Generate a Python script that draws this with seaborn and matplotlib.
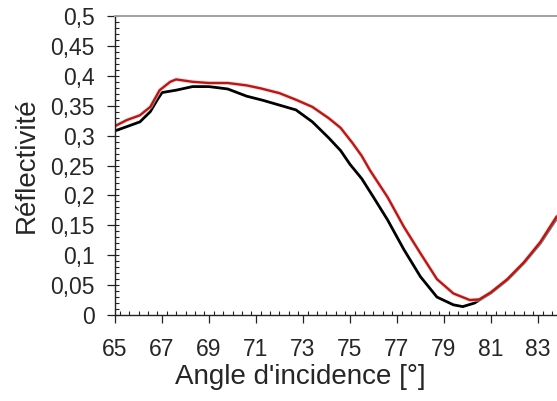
import matplotlib
matplotlib.use("Agg")
import matplotlib.pyplot as plt
import seaborn as sns
import pandas as pd
from matplotlib.ticker import MultipleLocator, FixedLocator

# ---- data ----
angle_black = [65.0, 65.5, 66.06, 66.5, 66.8, 67.0, 67.6, 68.3, 69.0, 69.8, 70.6, 71.3, 72.0,
               72.7, 73.4, 74.1, 74.6, 75.0, 75.5, 76.0, 76.6, 77.3, 78.0, 78.7, 79.4, 79.8,
               80.3, 81.0, 81.7, 82.4, 83.1, 83.8]
refl_black = [0.308, 0.315, 0.323, 0.340, 0.360, 0.372, 0.376, 0.382, 0.382, 0.378, 0.366, 0.359,
              0.351, 0.343, 0.323, 0.296, 0.275, 0.252, 0.228, 0.197, 0.159, 0.109, 0.064, 0.030,
              0.017, 0.014, 0.020, 0.037, 0.059, 0.087, 0.120, 0.162]

angle_red = [65.0, 65.5, 66.06, 66.5, 66.9, 67.35, 67.6, 68.3, 69.0, 69.8, 70.6, 71.2, 72.0,
             72.7, 73.4, 74.1, 74.6, 75.1, 75.5, 75.85, 76.6, 77.3, 78.0, 78.7, 79.4, 80.1,
             80.5, 81.0, 81.7, 82.4, 83.1, 83.8]
refl_red = [0.316, 0.326, 0.334, 0.348, 0.376, 0.390, 0.394, 0.390, 0.388, 0.388, 0.384, 0.379,
            0.371, 0.360, 0.348, 0.329, 0.313, 0.288, 0.266, 0.242, 0.197, 0.147, 0.103, 0.060,
            0.036, 0.025, 0.026, 0.038, 0.060, 0.088, 0.122, 0.165]

x_ticks = [65, 67, 69, 71, 73, 75, 77, 79, 81, 83]
y_ticks = [0, 0.05, 0.1, 0.15, 0.2, 0.25, 0.3, 0.35, 0.4, 0.45, 0.5]
y_tick_labels = ["0", "0,05", "0,1", "0,15", "0,2", "0,25", "0,3", "0,35", "0,4", "0,45", "0,5"]

sns.set_style("white")
plt.rcParams['font.family'] = ['Liberation Sans', 'DejaVu Sans']

fig = plt.figure(figsize=(5.57, 4.01), dpi=100)
ax = fig.add_axes([0.2065, 0.2145, 0.7935, 0.7455])

df_b = pd.DataFrame({"x": angle_black, "y": refl_black})
df_r = pd.DataFrame({"x": angle_red, "y": refl_red})
sns.lineplot(data=df_b, x="x", y="y", ax=ax, color="black", lw=2.0, sort=False, estimator=None)
sns.lineplot(data=df_r, x="x", y="y", ax=ax, color="#ffc0c0", lw=3.2, sort=False, estimator=None, alpha=0.6)
sns.lineplot(data=df_r, x="x", y="y", ax=ax, color="#a3201f", lw=1.7, sort=False, estimator=None)

ax.set_xlim(65, 83.81)
ax.set_ylim(0, 0.5)

ax.xaxis.set_major_locator(FixedLocator(x_ticks))
ax.xaxis.set_minor_locator(MultipleLocator(0.4))
ax.yaxis.set_major_locator(FixedLocator(y_ticks))
ax.yaxis.set_minor_locator(MultipleLocator(0.01))
ax.xaxis.remove_overlapping_locs = False
ax.yaxis.remove_overlapping_locs = False
ax.set_xticklabels([str(t) for t in x_ticks])
ax.set_yticklabels(y_tick_labels)

ax.tick_params(which='major', direction='out', length=5.8, width=0.9, color='#222222',
               labelsize=16.5, bottom=True, left=True)
ax.tick_params(which='minor', direction='in', length=2.7, width=0.8, color='#222222',
               bottom=True, left=True)
ax.tick_params(axis='y', which='major', pad=9)
ax.tick_params(axis='x', which='major', pad=11)

ax.spines['right'].set_visible(False)
ax.spines['top'].set_color('#a0a0a0')
ax.spines['top'].set_linewidth(1.4)
for side in ['left', 'bottom']:
    ax.spines[side].set_color('#222222')
    ax.spines[side].set_linewidth(1.0)

ax.set_xlabel("Angle d'incidence [°]", fontsize=20, labelpad=5)
ax.xaxis.set_label_coords(0.42, -0.165)
ax.set_ylabel("Réflectivité", fontsize=20, labelpad=7)

fig.savefig("out.png", dpi=100, facecolor="white")
